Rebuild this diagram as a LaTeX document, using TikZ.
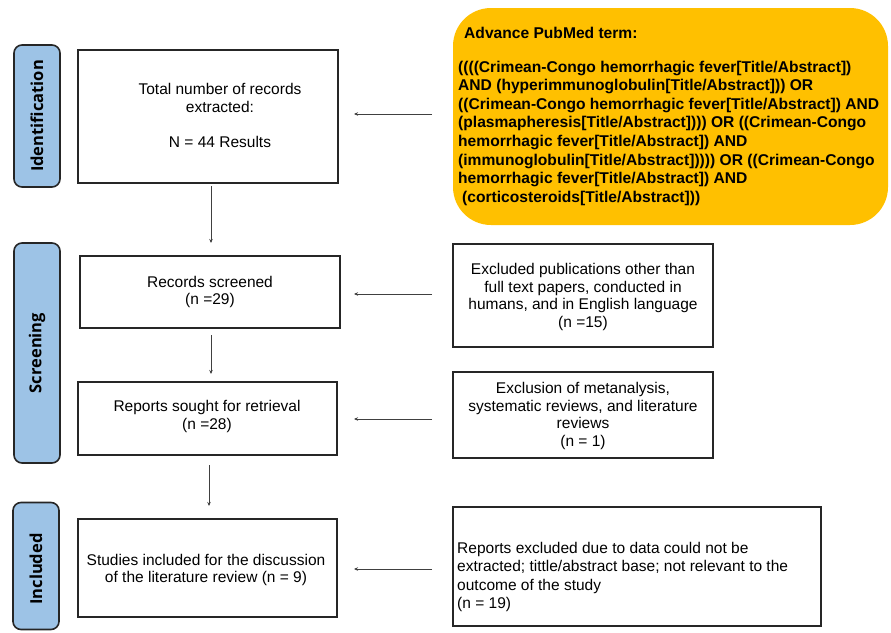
\documentclass[tikz,border=0pt]{standalone}
\usepackage{fontspec}
\setmainfont{Liberation Sans}
\newfontfamily\sidefont{Open Sans}
\usetikzlibrary{arrows.meta}
\definecolor{sideblue}{HTML}{9DC3E6}
\definecolor{termorange}{HTML}{FFC000}
\begin{document}
\begin{tikzpicture}[x=1pt,y=-1pt,
  side/.style={draw=black!85, line width=1.6pt, fill=sideblue, rounded corners=8pt, minimum width=46pt, inner sep=0pt},
  sidetext/.style={rotate=90, font=\sidefont\bfseries\fontsize{16.5}{18}\selectfont},
  box/.style={draw=black!85, line width=1.5pt, inner sep=0pt},
  txt/.style={align=center, font=\fontsize{15.5}{17.7}\selectfont, inner sep=0pt},
  ltxt/.style={align=left, font=\fontsize{15.5}{18.3}\selectfont, inner sep=0pt},
  arr/.style={draw=black!75, line width=0.9pt, -{Stealth[length=4pt,width=3.5pt]}}
]
\useasboundingbox (0,0) rectangle (891,632);

% sidebars
\node[side, minimum height=142pt] (sid) at (37,116) {};
\node[sidetext] (sidt) at (sid.center) {Identification};
\node[side, minimum height=220pt] (sscr) at (37,353) {};
\node[sidetext] (sscrt) at (sscr.center) {Screening};
\node[side, minimum height=127pt] (sinc) at (36,566) {};
\node[sidetext] (sinct) at (36,569) {Included};

% left boxes
\node[box, minimum width=260pt, minimum height=133pt] (b1) at (208,116.5) {};
\node[txt] (b1t) at (220,115.5) {Total number of records\\extracted:\\[17.7pt]N = 44 Results};
\node[box, minimum width=260pt, minimum height=72pt, txt] (b2) at (210,292) {Records screened\\(n =29)};
\node[box, minimum width=259pt, minimum height=73pt] (b3) at (207.5,418.5) {};
\node[txt] (b3t) at (207,416.5) {Reports sought for retrieval\\(n =28)};
\node[box, minimum width=259pt, minimum height=98pt] (b4) at (207.5,568) {};
\node[txt] (b4t) at (206,570) {Studies included for the discussion\\of the literature review (n = 9)};

% right boxes
\node[fill=termorange, rounded corners=38pt, minimum width=435pt, minimum height=217pt, inner sep=0pt] (term) at (670.5,116.5) {};
\node[anchor=base west, inner sep=0pt, font=\bfseries\fontsize{15.6}{18}\selectfont] (termh) at (464,38.5) {Advance PubMed term:};
\node[anchor=north west, ltxt, font=\bfseries\fontsize{15.6}{18.6}\selectfont] (termt) at (458,60.5) {((((Crimean-Congo hemorrhagic fever[Title/Abstract])\\AND (hyperimmunoglobulin[Title/Abstract])) OR\\((Crimean-Congo hemorrhagic fever[Title/Abstract]) AND\\(plasmapheresis[Title/Abstract]))) OR ((Crimean-Congo\\hemorrhagic fever[Title/Abstract]) AND\\(immunoglobulin[Title/Abstract])))) OR ((Crimean-Congo\\hemorrhagic fever[Title/Abstract]) AND\\\hspace{4pt}(corticosteroids[Title/Abstract]))};

\node[box, minimum width=260pt, minimum height=103pt] (e1) at (583,295.5) {};
\node[txt] (e1t) at (583,297) {Excluded publications other than\\full text papers, conducted in\\humans, and in English language\\(n =15)};
\node[box, minimum width=260pt, minimum height=86pt] (e2) at (583,415) {};
\node[txt] (e2t) at (583,416) {Exclusion of metanalysis,\\systematic reviews, and literature\\reviews\\(n = 1)};
\node[box, minimum width=368pt, minimum height=119pt] (e3) at (637,566.5) {};
\node[ltxt, anchor=west] (e3t) at (457,577) {Reports excluded due to data could not be\\extracted; tittle/abstract base; not relevant to the\\outcome of the study\\(n = 19)};

% arrows
\coordinate (a1s) at (211,186); \coordinate (a1e) at (211,243);
\coordinate (a2s) at (211,335); \coordinate (a2e) at (211,374);
\coordinate (a3s) at (209,465); \coordinate (a3e) at (209,506);
\draw[arr] (a1s) -- (a1e);
\draw[arr] (a2s) -- (a2e);
\draw[arr] (a3s) -- (a3e);

\coordinate (r1s) at (432,114); \coordinate (r1e) at (354,114);
\coordinate (r2s) at (432,294); \coordinate (r2e) at (354,294);
\coordinate (r3s) at (432,419); \coordinate (r3e) at (354,419);
\coordinate (r4s) at (432,569); \coordinate (r4e) at (354,569);
\draw[arr] (r1s) -- (r1e);
\draw[arr] (r2s) -- (r2e);
\draw[arr] (r3s) -- (r3e);
\draw[arr] (r4s) -- (r4e);
\end{tikzpicture}
\end{document}
